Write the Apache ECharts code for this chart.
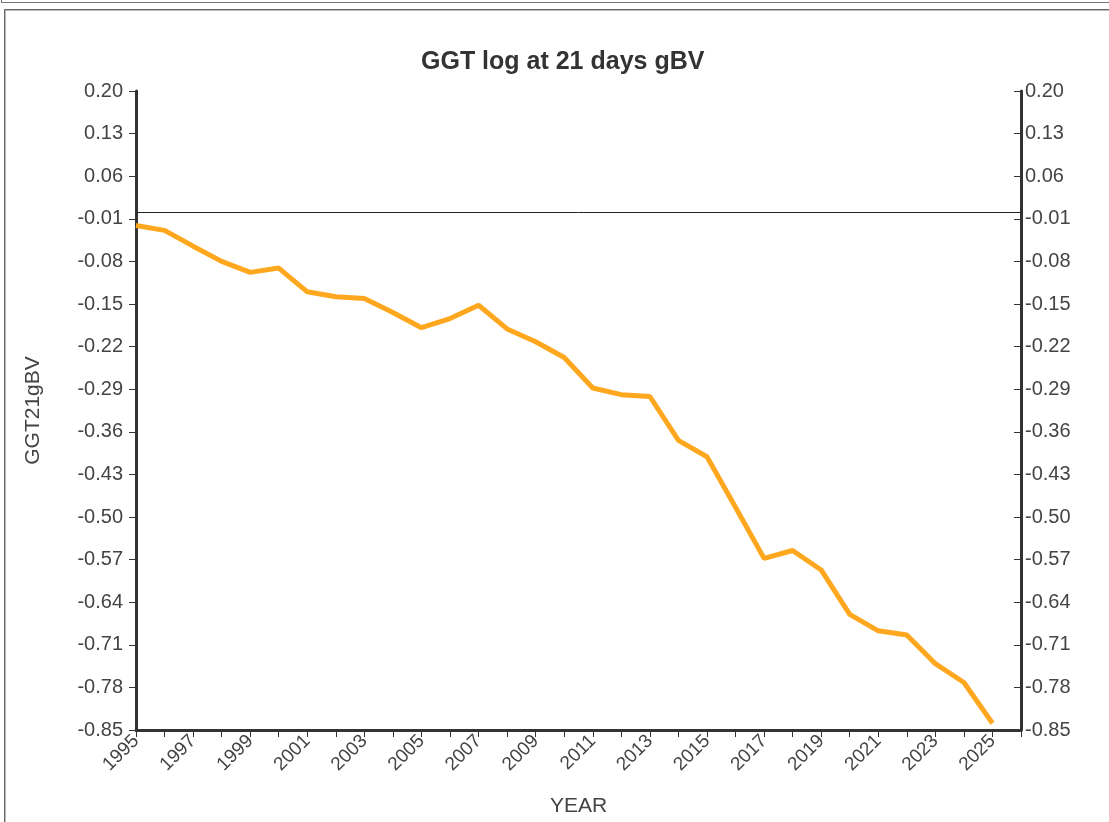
<!DOCTYPE html>
<html>
<head>
<meta charset="utf-8">
<script src="https://cdn.jsdelivr.net/npm/echarts@6/dist/echarts.min.js"></script>
<style>
  html, body { margin: 0; padding: 0; background: #fff; width: 1109px; height: 822px; overflow: hidden; position: relative; }
  #topbox { position: absolute; left: 1px; top: -10px; width: 1130px; height: 11px; border: 1px solid #777; }
  #panel { position: absolute; left: 4px; top: 9px; width: 1130px; height: 840px; border: 1px solid #666; box-shadow: inset 0 0 0 1px #bbb; }
  #chart { position: absolute; left: 0; top: 0; width: 1109px; height: 822px; }
</style>
</head>
<body>
<div id="topbox"></div>
<div id="panel"></div>
<div id="chart"></div>
<script>
const titleText = 'GGT log at 21 days gBV';
const xName = 'YEAR';
const yName = 'GGT21gBV';
const years = [1995,1996,1997,1998,1999,2000,2001,2002,2003,2004,2005,2006,2007,2008,2009,2010,
               2011,2012,2013,2014,2015,2016,2017,2018,2019,2020,2021,2022,2023,2024,2025];
const values = [-0.021,-0.029,-0.055,-0.080,-0.098,-0.091,-0.130,-0.138,-0.141,-0.164,-0.189,-0.174,
                -0.152,-0.191,-0.212,-0.238,-0.288,-0.299,-0.302,-0.374,-0.401,-0.484,-0.568,-0.555,
                -0.587,-0.660,-0.687,-0.694,-0.741,-0.772,-0.839];
const yMin = -0.85, yMax = 0.20, yStep = 0.07;
const xMin = 1995, xMax = 2026;
const referenceLine = 0;

const font = 'Liberation Sans, Arial, sans-serif';
const labelColor = '#444';
const axisColor = '#333';

const chart = echarts.init(document.getElementById('chart'), null, { renderer: 'canvas' });
const yAxisBase = {
  type: 'value', min: yMin, max: yMax, interval: yStep,
  splitLine: { show: false },
  axisLine: { show: true, onZero: false, lineStyle: { color: axisColor, width: 3 } },
  axisTick: { show: true, length: 7, lineStyle: { color: axisColor, width: 1 } },
  axisLabel: { color: labelColor, fontSize: 20, fontFamily: font, formatter: v => v.toFixed(2) }
};
chart.setOption({
  animation: false,
  title: { text: titleText, left: 416, top: 45,
           textStyle: { fontSize: 25, fontWeight: 'bold', color: '#333', fontFamily: font } },
  grid: { left: 136, right: 88, top: 91, bottom: 90, containLabel: false },
  xAxis: {
    type: 'value', min: xMin, max: xMax, interval: 1,
    name: xName, nameLocation: 'middle', nameGap: 66,
    nameTextStyle: { fontSize: 21, color: labelColor, fontFamily: font },
    splitLine: { show: false },
    axisLine: { show: true, onZero: false, lineStyle: { color: axisColor, width: 3 } },
    axisTick: { show: true, length: 7, lineStyle: { color: axisColor, width: 1 } },
    axisLabel: { color: labelColor, fontSize: 19, fontFamily: font, rotate: 45, margin: 8,
                 formatter: v => ((v - xMin) % 2 === 0 && v <= 2025) ? String(v) : '' }
  },
  yAxis: [
    Object.assign({}, yAxisBase, {
      position: 'left', name: yName, nameLocation: 'middle', nameGap: 92,
      nameTextStyle: { fontSize: 21, color: labelColor, fontFamily: font },
      axisLabel: Object.assign({}, yAxisBase.axisLabel, { margin: 13 })
    }),
    Object.assign({}, yAxisBase, {
      position: 'right',
      axisTick: { show: true, inside: true, length: 7, lineStyle: { color: axisColor, width: 1 } },
      axisLabel: Object.assign({}, yAxisBase.axisLabel, { margin: 4 })
    })
  ],
  series: [{
    type: 'line',
    data: years.map((y, i) => [y, values[i]]),
    showSymbol: false, symbol: 'none',
    lineStyle: { color: '#ffa81f', width: 5 },
    itemStyle: { color: '#ffa81f' },
    markLine: {
      silent: true, symbol: 'none', label: { show: false },
      lineStyle: { color: '#222', width: 1, type: 'solid' },
      data: [{ yAxis: referenceLine }]
    }
  }]
});
</script>
</body>
</html>
